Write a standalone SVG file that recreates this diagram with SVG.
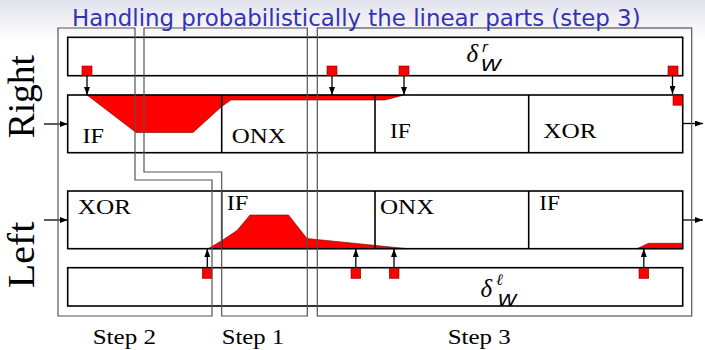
<svg xmlns="http://www.w3.org/2000/svg" width="705" height="350" viewBox="0 0 705 350">
<defs>
<linearGradient id="bg" x1="0" y1="0" x2="0" y2="1">
<stop offset="0" stop-color="#e2e2ec"/>
<stop offset="1" stop-color="#ffffff"/>
</linearGradient>
<marker id="ah" markerUnits="userSpaceOnUse" markerWidth="8" markerHeight="6" refX="8" refY="3" orient="auto">
<path d="M0,0 L8,3 L0,6 z" fill="#000"/>
</marker>
</defs>
<style>
.box{fill:none;stroke:#000;stroke-width:1.6}
.div{stroke:#000;stroke-width:1.6}
.step{fill:none;stroke:#555;stroke-width:1.2}
.red{fill:#ff0000;stroke:#700;stroke-width:0.6}
.arr{stroke:#000;stroke-width:1.3;marker-end:url(#ah)}
.lbl{font-family:"Liberation Serif",serif;font-size:21.5px;fill:#000}
.side{font-family:"Liberation Serif",serif;font-size:37px;fill:#000}
.title{font-family:"DejaVu Sans",sans-serif;font-size:22.9px;fill:#3333b3}
.mi{font-family:"Liberation Serif",serif;font-style:italic;fill:#000}
.ms{font-family:"DejaVu Sans",sans-serif;font-style:oblique;fill:#000}
</style>
<rect x="0" y="0" width="705" height="40" fill="url(#bg)"/>
<rect x="0" y="40" width="705" height="310" fill="#fff"/>

<g id="fills">
<polygon class="red" points="87,95 136,132.5 193,132.5 221.7,106.5 231,100 385,100 404,95"/>
<polygon class="red" points="208,248.7 222,240.5 237,230.5 250,215 288.5,215 307,238.5 408,248.7"/>
<polygon class="red" points="637,248.7 648.5,243.3 682.7,243.3 682.7,248.7"/>
</g>

<g id="deltaR">
<rect class="box" x="67.7" y="37.3" width="615" height="38.4"/>
<text class="mi" x="466.5" y="61.5" font-size="25">δ</text>
<text class="ms" x="482" y="52" font-size="14">r</text>
<text class="ms" x="480.5" y="71" font-size="15.5" textLength="21" lengthAdjust="spacingAndGlyphs">W</text>
</g>

<g id="rightRow">
<rect class="box" x="67.7" y="95" width="615" height="57.7"/>
<line class="div" x1="221.7" y1="95" x2="221.7" y2="152.7"/>
<line class="div" x1="375" y1="95" x2="375" y2="152.7"/>
<line class="div" x1="528.7" y1="95" x2="528.7" y2="152.7"/>
<text class="lbl" x="82.5" y="142.7" textLength="21.6" lengthAdjust="spacingAndGlyphs">IF</text>
<text class="lbl" x="231.7" y="142.7" textLength="54" lengthAdjust="spacingAndGlyphs">ONX</text>
<text class="lbl" x="390" y="137.7" textLength="20.7" lengthAdjust="spacingAndGlyphs">IF</text>
<text class="lbl" x="543.3" y="137.7" textLength="53.3" lengthAdjust="spacingAndGlyphs">XOR</text>
</g>

<g id="leftRow">
<rect class="box" x="67.7" y="191" width="615" height="57.7"/>
<line class="div" x1="221.7" y1="191" x2="221.7" y2="248.7"/>
<line class="div" x1="375" y1="191" x2="375" y2="248.7"/>
<line class="div" x1="528.7" y1="191" x2="528.7" y2="248.7"/>
<text class="lbl" x="77.7" y="214.3" textLength="53.3" lengthAdjust="spacingAndGlyphs">XOR</text>
<text class="lbl" x="226.7" y="210" textLength="21.6" lengthAdjust="spacingAndGlyphs">IF</text>
<text class="lbl" x="380" y="214.3" textLength="54.3" lengthAdjust="spacingAndGlyphs">ONX</text>
<text class="lbl" x="539.3" y="210" textLength="20.7" lengthAdjust="spacingAndGlyphs">IF</text>
</g>

<g id="deltaL">
<rect class="box" x="67.7" y="267.7" width="615" height="38.3"/>
<text class="mi" x="480.5" y="297" font-size="25">δ</text>
<text class="mi" x="496" y="284.5" font-size="16">ℓ</text>
<text class="ms" x="497.5" y="305.5" font-size="15.5" textLength="19.5" lengthAdjust="spacingAndGlyphs">W</text>
</g>

<g id="squares">
<rect class="red" x="82" y="66" width="10" height="9.7"/>
<rect class="red" x="327" y="66" width="10" height="9.7"/>
<rect class="red" x="399" y="66" width="10" height="9.7"/>
<rect class="red" x="668" y="66" width="10" height="9.7"/>
<rect class="red" x="673" y="95.5" width="9.5" height="9.7"/>
<rect class="red" x="202.3" y="268.3" width="9.7" height="10"/>
<rect class="red" x="351" y="268.3" width="9.7" height="10"/>
<rect class="red" x="389.3" y="268.3" width="9.7" height="10"/>
<rect class="red" x="639" y="268.3" width="9.7" height="10"/>
</g>

<g id="connectors">
<line class="arr" x1="87" y1="76" x2="87" y2="95"/>
<line class="arr" x1="332" y1="76" x2="332" y2="95"/>
<line class="arr" x1="404" y1="76" x2="404" y2="95"/>
<line class="arr" x1="672.5" y1="76" x2="672.5" y2="94"/>
<line class="arr" x1="207.3" y1="267.7" x2="207.3" y2="249"/>
<line class="arr" x1="355.8" y1="267.7" x2="355.8" y2="249"/>
<line class="arr" x1="394" y1="267.7" x2="394" y2="249"/>
<line class="arr" x1="643.8" y1="267.7" x2="643.8" y2="249"/>
<line class="arr" x1="44" y1="124" x2="67.7" y2="124"/>
<line class="arr" x1="44" y1="220" x2="67.7" y2="220"/>
<line class="arr" x1="682.7" y1="123.5" x2="703" y2="123.5"/>
<line class="arr" x1="682.7" y1="220" x2="703" y2="220"/>
</g>

<g id="steps">
<polygon class="step" points="58,28 135,28 135,180 212,180 212,316 58,316"/>
<polygon class="step" points="144,28 307.3,28 307.3,316 221.7,316 221.7,172 144,172"/>
<rect class="step" x="317.3" y="28" width="374.4" height="288"/>
<text class="lbl" x="92.7" y="344" textLength="63.3" lengthAdjust="spacingAndGlyphs">Step 2</text>
<text class="lbl" x="221.7" y="344" textLength="62.3" lengthAdjust="spacingAndGlyphs">Step 1</text>
<text class="lbl" x="447.7" y="344" textLength="63" lengthAdjust="spacingAndGlyphs">Step 3</text>
</g>

<g id="sideLabels">
<text class="side" transform="translate(33.5,138.3) rotate(-90)" textLength="83.3" lengthAdjust="spacingAndGlyphs">Right</text>
<text class="side" transform="translate(33.5,288.3) rotate(-90)" textLength="66.6" lengthAdjust="spacingAndGlyphs">Left</text>
</g>

<text class="title" x="72" y="26">Handling probabilistically the linear parts (step 3)</text>
</svg>
